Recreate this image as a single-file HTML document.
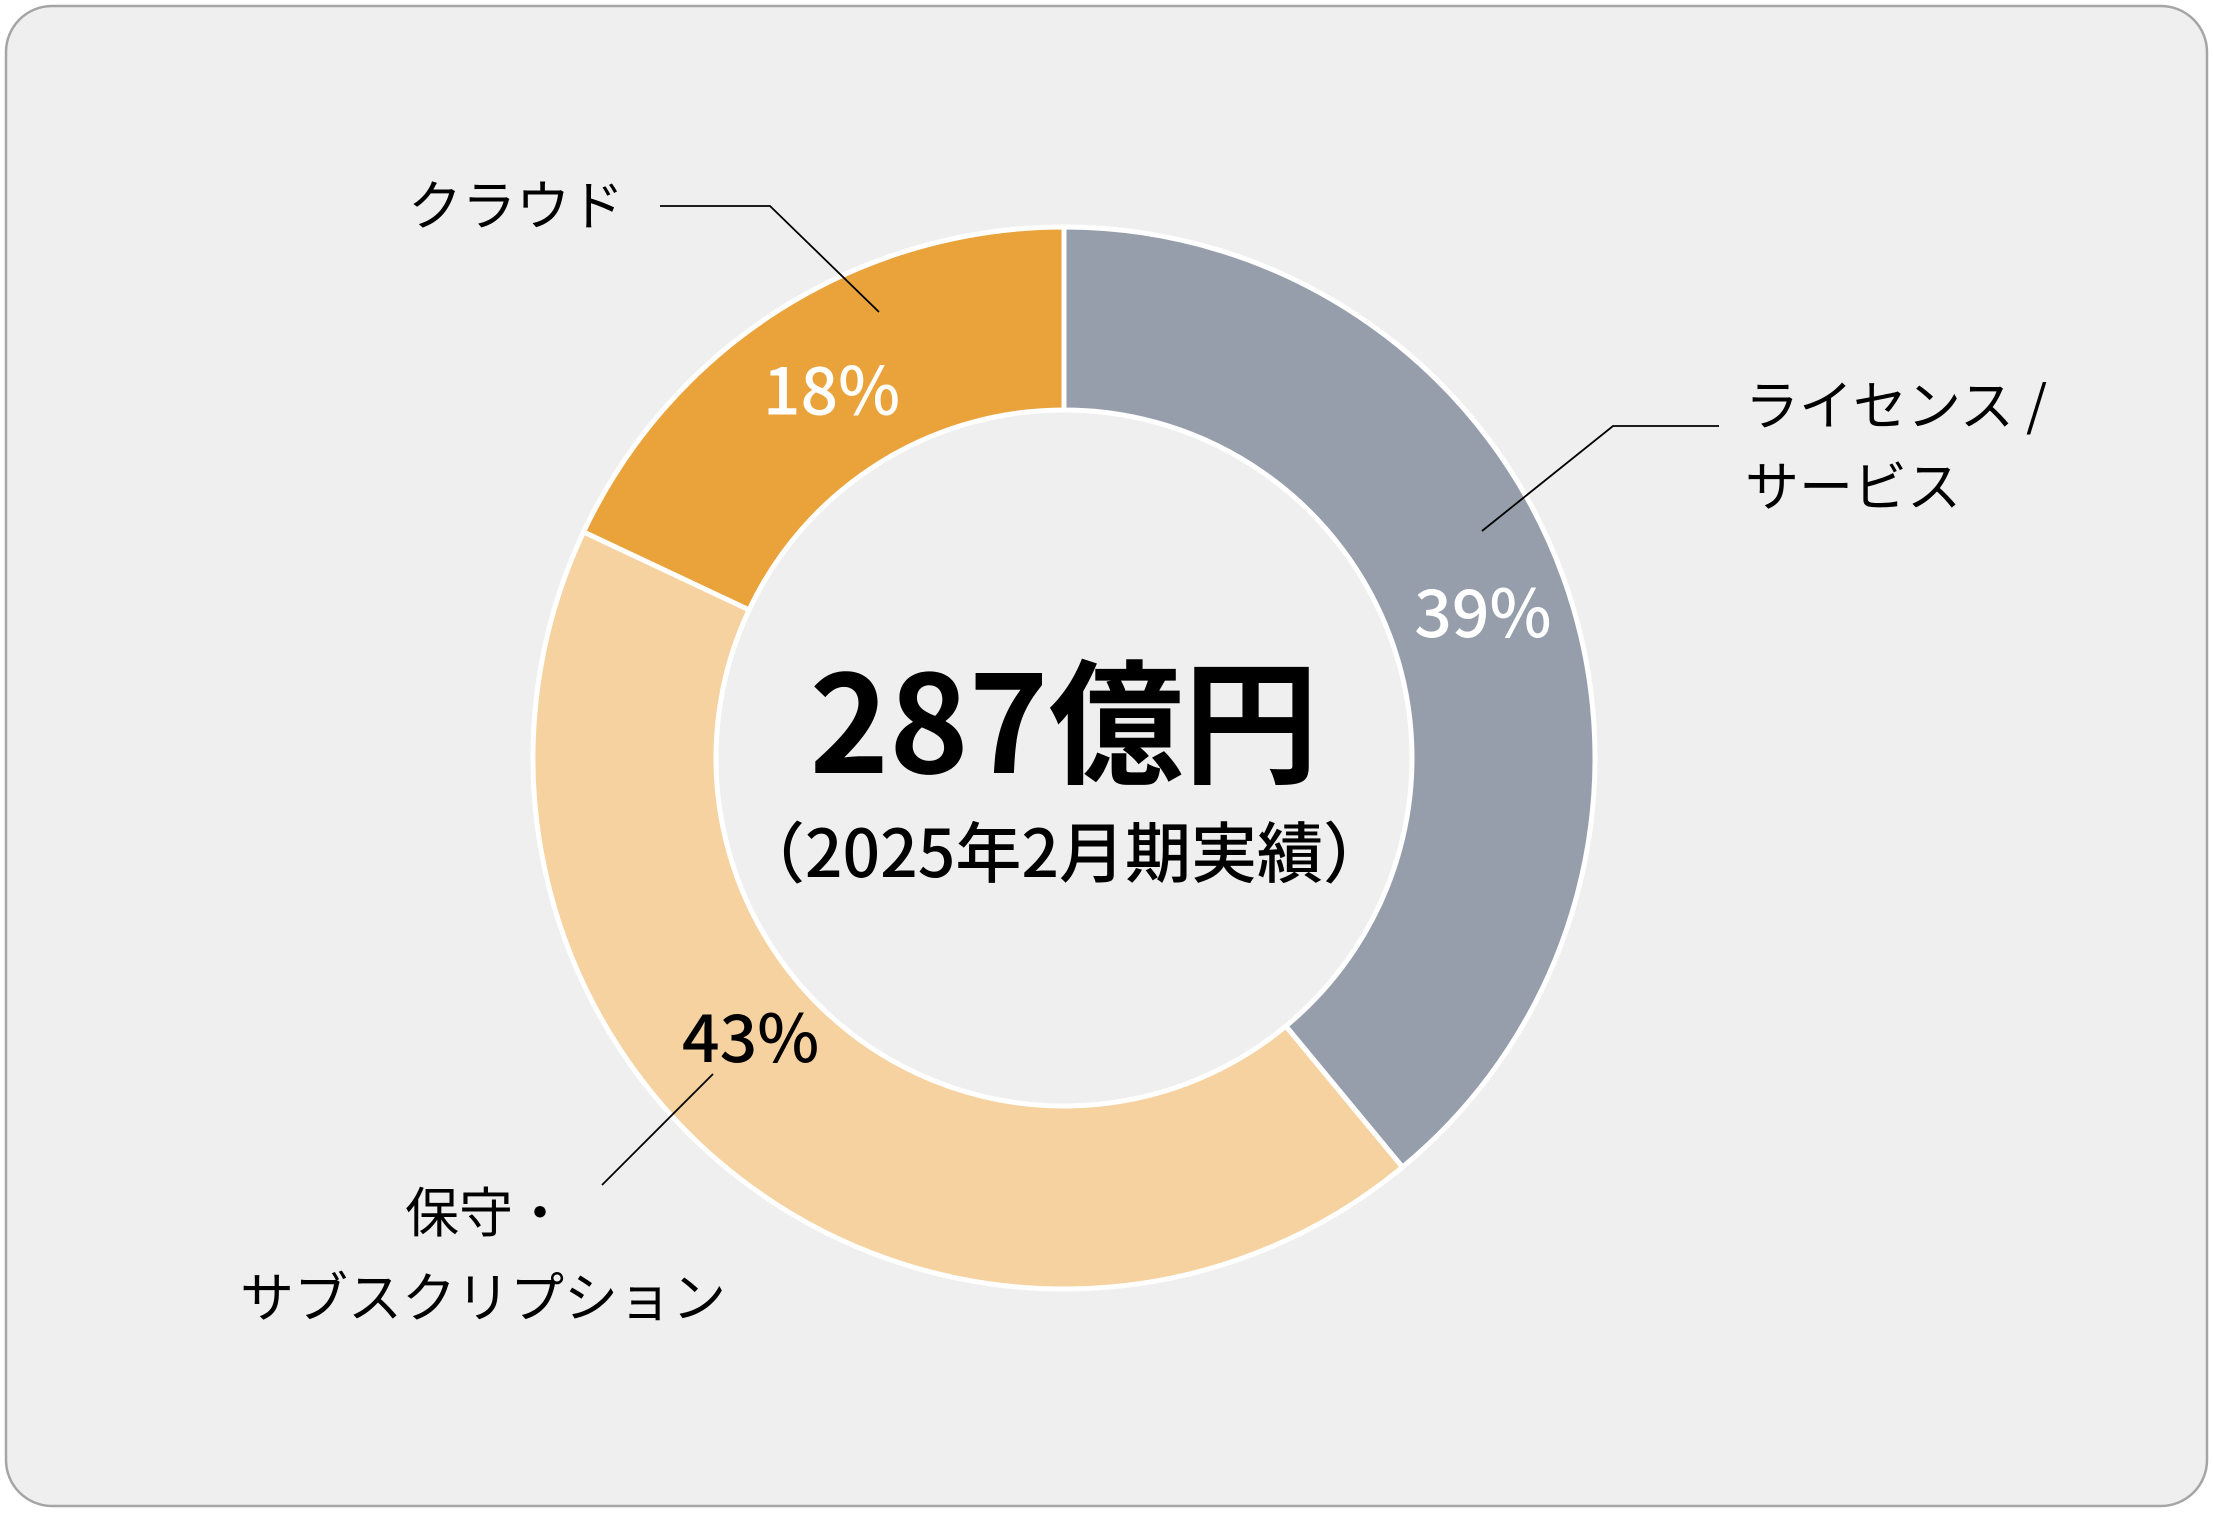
<!DOCTYPE html>
<html><head><meta charset="utf-8">
<style>
html,body{margin:0;padding:0;background:#fff;}
body{width:2213px;height:1512px;overflow:hidden;font-family:"Noto Sans CJK JP","Liberation Sans",sans-serif;}
</style></head>
<body>
<svg id="chart" width="2213" height="1512" viewBox="0 0 2213 1512" xmlns="http://www.w3.org/2000/svg" font-family="'Noto Sans CJK JP','Liberation Sans',sans-serif">
<rect x="6" y="6" width="2201" height="1500" rx="46" fill="#efefef" stroke="#a5a5a5" stroke-width="2.5"/>
<g id="slices"></g>
<g id="labels"></g>
<text x="1064" y="773" text-anchor="middle" font-size="135" font-weight="bold" fill="#000">287億円</text>
<text x="1064" y="877" text-anchor="middle" font-size="66" font-weight="500" fill="#000">（2025年2月期実績）</text>
</svg>
<script>
const categories = ["ライセンス / サービス", "保守・サブスクリプション", "クラウド"];
const values = [39, 43, 18];
const valueLabels = ["39%", "43%", "18%"];
const colors = ["#979eab", "#f5d29f", "#eaa33b"];

const cx = 1064, cy = 758, R = 531, r = 348;
const svgNS = "http://www.w3.org/2000/svg";
const total = values.reduce((a, b) => a + b, 0);
function pt(angle, rad) { return [cx + rad * Math.sin(angle), cy - rad * Math.cos(angle)]; }
const sg = document.getElementById("slices");
const lg = document.getElementById("labels");
let acc = 0;
const mids = [];
values.forEach((v, i) => {
  const a0 = acc / total * 2 * Math.PI;
  acc += v;
  const a1 = acc / total * 2 * Math.PI;
  const large = (a1 - a0) > Math.PI ? 1 : 0;
  const [x0, y0] = pt(a0, R), [x1, y1] = pt(a1, R), [x2, y2] = pt(a1, r), [x3, y3] = pt(a0, r);
  const p = document.createElementNS(svgNS, "path");
  p.setAttribute("d", `M${x0},${y0} A${R},${R} 0 ${large} 1 ${x1},${y1} L${x2},${y2} A${r},${r} 0 ${large} 0 ${x3},${y3} Z`);
  p.setAttribute("fill", colors[i]);
  p.setAttribute("stroke", "#ffffff");
  p.setAttribute("stroke-width", "5");
  
  
  sg.appendChild(p);
  mids.push((a0 + a1) / 2);
});
const labelColors = ["#ffffff", "#000000", "#ffffff"];
const labelRadius = [443, 421, 434];
const labelAngleShift = [0.014, 0.18, 0];
values.forEach((v, i) => {
  const [x, y] = pt(mids[i] + labelAngleShift[i], labelRadius[i]);
  const t = document.createElementNS(svgNS, "text");
  t.setAttribute("x", x); t.setAttribute("y", y + 23);
  t.setAttribute("text-anchor", "middle");
  t.setAttribute("font-size", "66");
  t.setAttribute("font-weight", "500");
  t.setAttribute("fill", labelColors[i]);
  t.textContent = valueLabels[i];
  
  
  lg.appendChild(t);
});
function addLine(d, name) {
  const l = document.createElementNS(svgNS, "polyline");
  l.setAttribute("points", d);
  l.setAttribute("fill", "none");
  l.setAttribute("stroke", "#000");
  l.setAttribute("stroke-width", "1.8");
  
  
  lg.appendChild(l);
}
function addText(x, y, s, name) {
  const t = document.createElementNS(svgNS, "text");
  t.setAttribute("x", x); t.setAttribute("y", y);
  t.setAttribute("font-size", "54");
  t.setAttribute("fill", "#000");
  t.textContent = s;
  
  
  lg.appendChild(t);
}
addLine("660,206 770,206 879,312", "cloud-leader-line");
addLine("1719,426 1613,426 1482,531", "license-leader-line");
addLine("713,1074 602,1185", "maintenance-leader-line");
addText(408, 225, "クラウド", "cloud-category-label");
addText(1745, 425, "ライセンス /", "license-category-label-line1");
addText(1745, 506, "サービス", "license-category-label-line2");
addText(405, 1232, "保守・", "maintenance-category-label-line1");
addText(240, 1317, "サブスクリプション", "maintenance-category-label-line2");
</script>
</body></html>
